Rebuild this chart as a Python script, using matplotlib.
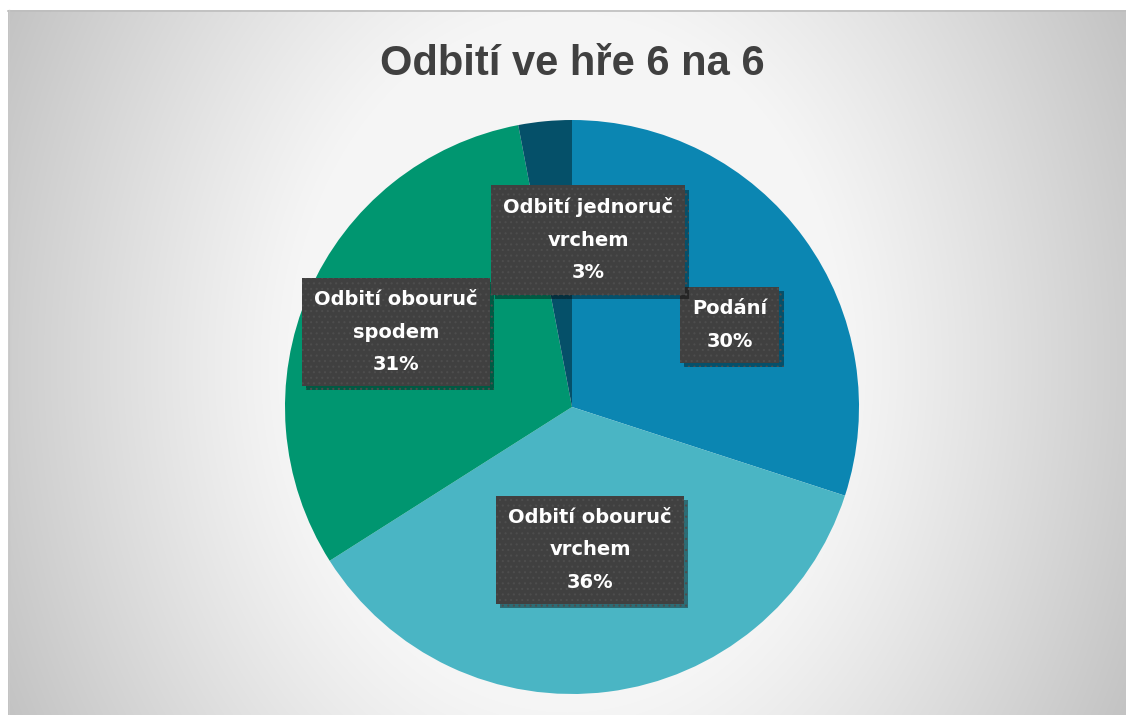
import matplotlib.pyplot as plt
import matplotlib.patheffects as pe
from matplotlib import font_manager
import numpy as np

# data
kategorie = ['Podání', 'Odbití obouruč\nvrchem', 'Odbití obouruč\nspodem', 'Odbití jednoruč\nvrchem']
podil = [30, 36, 31, 3]
barvy = ['#0b86b2', '#4ab5c4', '#009670', '#055069']
nadpis = 'Odbití ve hře 6 na 6'

# layout of the data labels (axes data coords, pie radius = 1)
pozice_popisku = [(0.55, 0.286), (0.063, -0.498), (-0.613, 0.261), (0.056, 0.582)]

W, H = 1126, 715
fig = plt.figure(figsize=(W / 100, H / 100), dpi=100)

# background panel with radial gradient
bg = fig.add_axes([0, 0, 1, 1])
yy, xx = np.mgrid[0:H, 0:W]
d = np.sqrt(((xx - 567) / 560.0) ** 2 + ((yy - 362) / 700.0) ** 2)
val = 245 - 85 * np.clip(d - 0.5, 0, None) ** 1.1
val = np.clip(val, 180, 245) / 255.0
val[:, :8] = 1.0
val[:10, :] = 1.0
img = np.dstack([val, val, val])
bg.imshow(img, extent=(0, W, H, 0), aspect='auto', interpolation='bilinear')
bg.plot([8, W], [10.5, 10.5], color='#bdbdbd', lw=1.2)
bg.plot([8.5, 8.5], [10, H], color='#c8c8c8', lw=1)
bg.set_xlim(0, W)
bg.set_ylim(H, 0)
bg.axis('off')

# pie
cx, cy, r = 572, 407, 287
ax = fig.add_axes([(cx - r) / W, (H - cy - r) / H, 2 * r / W, 2 * r / H])
ax.pie(podil, colors=barvy, startangle=90, counterclock=False, radius=1,
       wedgeprops=dict(linewidth=0))
ax.set_xlim(-1, 1)
ax.set_ylim(-1, 1)
ax.set_aspect('equal')
ax.axis('off')

plt.rcParams['hatch.linewidth'] = 0.8
for nazev, p, (x, y) in zip(kategorie, podil, pozice_popisku):
    t = ax.text(x, y, f'{nazev}\n{p}%', ha='center', va='center', multialignment='center',
                fontsize=14, fontweight='bold', family='DejaVu Sans',
                color='white', linespacing=1.9, zorder=5,
                bbox=dict(boxstyle='square,pad=0.62', facecolor='#404040',
                          edgecolor='#4d4d4d', linewidth=0, hatch='...'))
    t.get_bbox_patch().set_path_effects([
        pe.SimplePatchShadow(offset=(3, -3), shadow_rgbFace='black', alpha=0.4),
        pe.Normal()])

# title font: regular-width Liberation Sans Bold (avoid the Narrow variant)
font_nadpis = None
for f in font_manager.fontManager.ttflist:
    if f.name == 'Liberation Sans' and f.weight == 700 and f.style == 'normal' \
            and 'narrow' not in f.fname.lower():
        font_nadpis = font_manager.FontProperties(fname=f.fname, size=30)
        break
if font_nadpis is None:
    font_nadpis = font_manager.FontProperties(family='DejaVu Sans', weight='bold', size=27)

fig.text(cx / W, 1 - 64 / H, nadpis, ha='center', va='center',
         fontproperties=font_nadpis, color='#404040')

fig.savefig('out.png', dpi=100)
